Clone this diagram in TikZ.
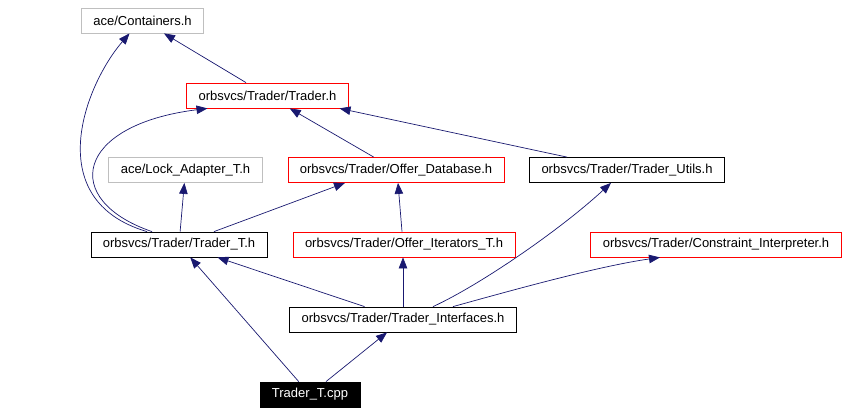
\documentclass[tikz,border=0pt]{standalone}
\usepackage{fontspec}
\setmainfont{Liberation Sans}
\usepackage{xcolor}
\usetikzlibrary{arrows.meta}
\definecolor{edgeblue}{RGB}{25,25,112}

\begin{document}
\begin{tikzpicture}[
    x=1pt, y=-1pt,
    >={Triangle[length=11pt,width=8.5pt]},
    file/.style={draw=black, line width=0.8pt, minimum height=25pt,
                 inner xsep=12pt, inner ysep=0pt,
                 font=\fontsize{13}{15}\selectfont},
    extfile/.style={file, draw=black!25},
    redfile/.style={file, draw=red},
    mainfile/.style={file, fill=black, text=white},
    arrow/.style={->, draw=edgeblue, line width=0.7pt},
  ]
  \useasboundingbox (0,0) rectangle (849,413);

  % ── Row 0 ──
  \node[extfile] at (142.5, 20.5) (containers) {ace/Containers.h};

  % ── Row 1 ──
  \node[redfile] at (267.5, 95.5) (trader) {orbsvcs/Trader/Trader.h};

  % ── Row 2 ──
  \node[extfile] at (185.5, 170) (lock) {ace/Lock\_Adapter\_T.h};
  \node[redfile] at (396, 170) (offerdb) {orbsvcs/Trader/Offer\_Database.h};
  \node[file] at (627, 170) (utils) {orbsvcs/Trader/Trader\_Utils.h};

  % ── Row 3 ──
  \node[file] at (179, 244.5) (tradert) {orbsvcs/Trader/Trader\_T.h};
  \node[redfile] at (404, 244.5) (offerit) {orbsvcs/Trader/Offer\_Iterators\_T.h};
  \node[redfile] at (716, 244.5) (constraint)
    {orbsvcs/Trader/Constraint\_Interpreter.h};

  % ── Row 4 ──
  \node[file] at (403, 319.5) (interfaces)
    {orbsvcs/Trader/Trader\_Interfaces.h};

  % ── Row 5 ──
  \node[mainfile] at (310, 394.5) (tradercpp) {Trader\_T.cpp};

  % ── Arrows ──
  \draw[arrow] (trader) -- (containers);
  \draw[arrow] ([xshift=-32pt]tradert.north) .. controls (40,200) and (85,85)
    .. ([xshift=-13pt]containers.south);
  \draw[arrow] ([xshift=-27pt]tradert.north) .. controls (60,200) and (75,125)
    .. ([xshift=-60pt]trader.south);
  \draw[arrow] (offerdb) -- (trader);
  \draw[arrow] ([xshift=-60pt]utils.north) -- ([xshift=72pt]trader.south);

  \draw[arrow] (tradert) -- (lock);
  \draw[arrow] ([xshift=35pt]tradert.north) -- ([xshift=-51pt]offerdb.south);
  \draw[arrow] ([xshift=-2pt]offerit.north) -- ([xshift=2pt]offerdb.south);

  \draw[arrow] (interfaces) -- (tradert);
  \draw[arrow] (interfaces.north) -- (interfaces.north |- offerit.south);
  \draw[arrow] ([xshift=30pt]interfaces.north) .. controls (480,285) and (560,230)
    .. ([xshift=-16pt]utils.south);
  \draw[arrow] ([xshift=50pt]interfaces.north) .. controls (520,288) and (600,266)
    .. ([xshift=-56pt]constraint.south);

  \draw[arrow] (tradercpp) -- (tradert);
  \draw[arrow] (tradercpp) -- (interfaces);

\end{tikzpicture}
\end{document}
